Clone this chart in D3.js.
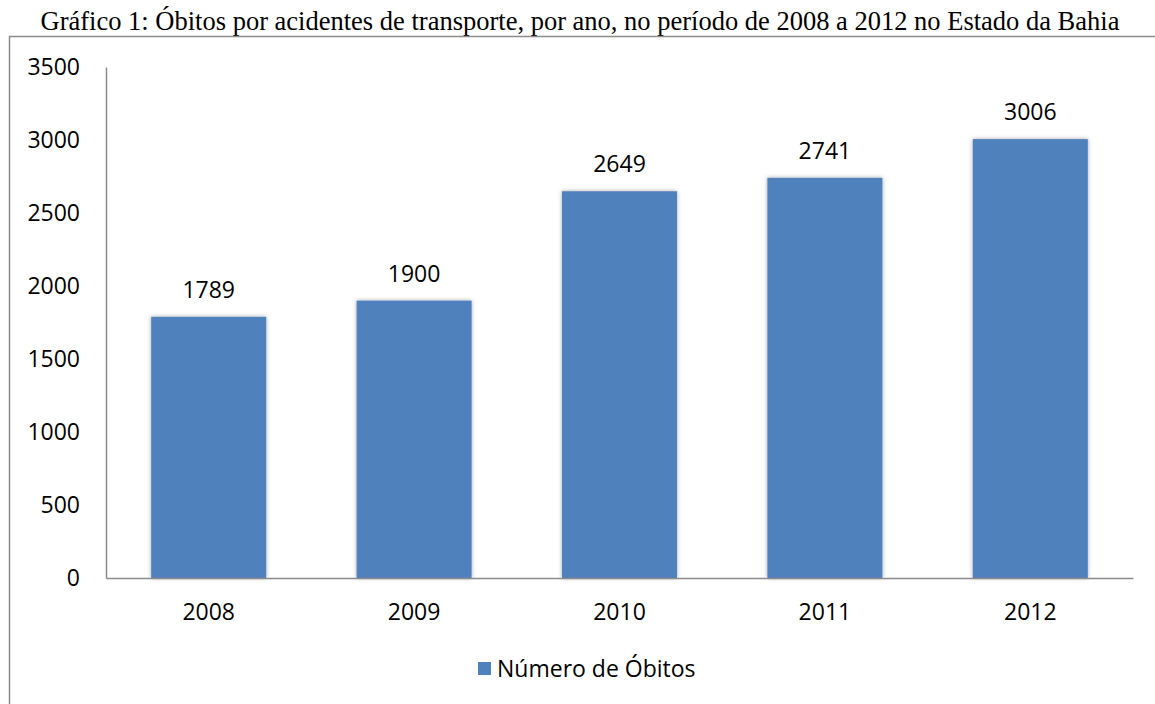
<!DOCTYPE html>
<html>
<head>
<meta charset="utf-8">
<script src="https://cdn.jsdelivr.net/npm/d3@7"></script>
<style>
  body { margin: 0; background: #fff; }
  svg { display: block; }
</style>
</head>
<body>
<svg class="mainSvg" width="1155" height="704"></svg>
<script>
// dados do grafico
var anos = ["2008", "2009", "2010", "2011", "2012"];
var obitos = [1789, 1900, 2649, 2741, 3006];
var yTicks = [0, 500, 1000, 1500, 2000, 2500, 3000, 3500];
var titulo = "Gráfico 1: Óbitos por acidentes de transporte, por ano, no período de 2008 a 2012 no Estado da Bahia";
var serieNome = "Número de Óbitos";

var svg = d3.select(".mainSvg");
var plotLeft = 106, plotRight = 1133, plotTop = 67, plotBottom = 578;
var labelFont = "'Open Sans', sans-serif";
var labelSize = 23;

var defs = svg.append("defs");
var f = defs.append("filter").attr("id", "sombra")
  .attr("x", "-10%").attr("y", "-10%").attr("width", "120%").attr("height", "120%");
f.append("feDropShadow").attr("dx", 0).attr("dy", 0).attr("stdDeviation", 2)
  .attr("flood-color", "#000").attr("flood-opacity", 0.35);

// titulo
svg.append("text")
  .attr("x", 580).attr("y", 30)
  .attr("text-anchor", "middle")
  .attr("font-family", "'Liberation Serif', 'Times New Roman', serif")
  .attr("font-size", 26.5)
  .text(titulo);

// moldura
svg.append("path")
  .attr("d", "M1155,36.5H9.5V704")
  .attr("fill", "none").attr("stroke", "#8c8c8c").attr("stroke-width", 1.5);

var x = d3.scaleBand().domain(anos).range([plotLeft, plotRight]).paddingInner(0.44).paddingOuter(0.22);
var y = d3.scaleLinear().domain([0, 3500]).range([plotBottom, plotTop]);

// barras
svg.selectAll("rect.bar").data(obitos).enter().append("rect")
  .attr("class", "bar")
  .attr("x", function(d, i) { return x(anos[i]); })
  .attr("y", function(d) { return y(d); })
  .attr("width", x.bandwidth())
  .attr("height", function(d) { return y(0) - y(d); })
  .attr("fill", "#4f81bd")
  .attr("filter", "url(#sombra)");

// rotulos
svg.selectAll("text.valor").data(obitos).enter().append("text")
  .attr("class", "valor")
  .attr("x", function(d, i) { return x(anos[i]) + x.bandwidth() / 2; })
  .attr("y", function(d) { return y(d) - 19; })
  .attr("text-anchor", "middle")
  .attr("font-family", labelFont)
  .attr("font-size", labelSize)
  .text(function(d) { return d; });

// eixo y
var yAxis = svg.append("g").attr("transform", "translate(" + plotLeft + ",0)")
  .call(d3.axisLeft(y).tickValues(yTicks).tickSize(0).tickPadding(26).tickFormat(d3.format("d")));
yAxis.select(".domain").attr("stroke", "#8c8c8c").attr("stroke-width", 1.5);
yAxis.selectAll("text").attr("font-family", labelFont).attr("font-size", labelSize).attr("fill", "#000");

// eixo x
var xAxis = svg.append("g").attr("transform", "translate(0," + plotBottom + ")")
  .call(d3.axisBottom(x).tickSize(0).tickPadding(26));
xAxis.select(".domain").attr("stroke", "#8c8c8c").attr("stroke-width", 1.5);
xAxis.selectAll("text").attr("font-family", labelFont).attr("font-size", labelSize).attr("fill", "#000");

// legenda
svg.append("rect").attr("x", 478).attr("y", 662).attr("width", 13).attr("height", 13).attr("fill", "#4f81bd");
svg.append("text")
  .attr("x", 497).attr("y", 677)
  .attr("font-family", labelFont)
  .attr("font-size", labelSize)
  .text(serieNome);
</script>
</body>
</html>
